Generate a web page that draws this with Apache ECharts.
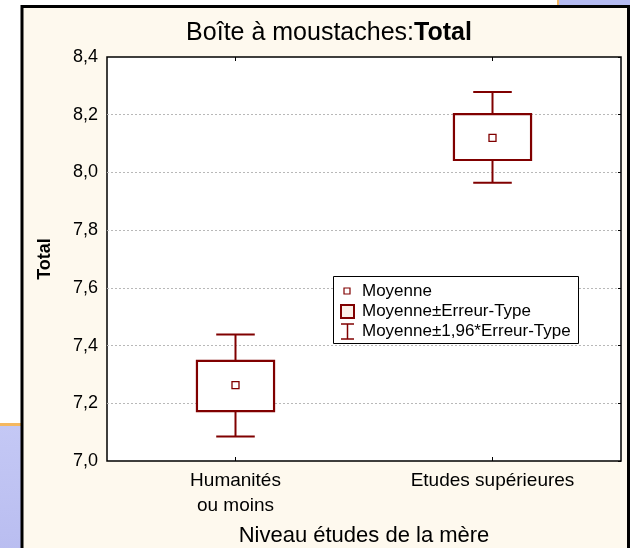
<!DOCTYPE html>
<html>
<head>
<meta charset="utf-8">
<script src="https://cdn.jsdelivr.net/npm/echarts@6/dist/echarts.min.js"></script>
<style>html,body{margin:0;padding:0;background:#fff}#c{width:630px;height:548px}</style>
</head>
<body>
<div id="c"></div>
<script>
// ---- data ----
const categories = ['Humanités\nou moins', 'Etudes supérieures'];
const means  = [7.263, 8.120];
const seLow  = [7.173, 8.043];
const seHigh = [7.347, 8.202];
const ciLow  = [7.085, 7.964];
const ciHigh = [7.438, 8.279];
const yMin = 7.0, yMax = 8.4, yStep = 0.2;
const legendNames = ['Moyenne', 'Moyenne±Erreur-Type', 'Moyenne±1,96*Erreur-Type'];

const RED = '#800000';
const FONT = 'Liberation Sans, Arial, sans-serif';

const chart = echarts.init(document.getElementById('c'), null, {renderer: 'canvas'});

const whiskerData = categories.map((c, i) => [i, ciLow[i], ciHigh[i]]);
const boxData = categories.map((c, i) => [i, seLow[i], seHigh[i]]);
const meanData = categories.map((c, i) => [i, means[i]]);

const option = {
  backgroundColor: '#ffffff',
  animation: false,
  title: {
    text: '{n|Boîte à moustaches:}{b|Total}',
    left: 329, top: 21, textAlign: 'center', padding: 0,
    textStyle: {
      fontWeight: 'normal', fontFamily: FONT, fontSize: 25, color: '#000',
      rich: {
        n: {fontFamily: FONT, fontSize: 25, fontWeight: 'normal', color: '#000'},
        b: {fontFamily: FONT, fontSize: 25, fontWeight: 'bold', color: '#000'}
      }
    }
  },
  grid: {
    left: 107, top: 57, width: 514, height: 404,
    outerBoundsMode: 'none', containLabel: false,
    show: true, backgroundColor: '#ffffff', borderColor: '#000', borderWidth: 1.5
  },
  xAxis: [{
    type: 'category', data: categories, position: 'bottom',
    axisLine: {show: false},
    axisTick: {show: true, inside: true, length: 4, alignWithLabel: true, lineStyle: {color: '#000'}},
    axisLabel: {fontFamily: FONT, fontSize: 19, color: '#000', margin: 7, lineHeight: 25},
    splitLine: {show: false},
    name: 'Niveau études de la mère', nameLocation: 'middle', nameGap: 64,
    nameTextStyle: {fontFamily: FONT, fontSize: 22, color: '#000'}
  }, {
    type: 'category', data: categories, position: 'top',
    axisLine: {show: false},
    axisTick: {show: true, inside: true, length: 4, alignWithLabel: true, lineStyle: {color: '#000'}},
    axisLabel: {show: false}, splitLine: {show: false}
  }],
  yAxis: [{
    type: 'value', min: yMin, max: yMax, interval: yStep, position: 'left',
    axisLine: {show: false},
    axisTick: {show: false},
    axisLabel: {fontFamily: FONT, fontSize: 18, color: '#000', margin: 9,
      formatter: v => v.toFixed(1).replace('.', ',')},
    splitLine: {show: true, showMinLine: false, showMaxLine: false,
      lineStyle: {color: '#b8b8b8', type: [2, 2], width: 1}},
    name: 'Total', nameLocation: 'middle', nameGap: 53, nameRotate: 90,
    nameTextStyle: {fontFamily: FONT, fontSize: 18, fontWeight: 'bold', color: '#000'}
  }, {
    type: 'value', min: yMin, max: yMax, interval: yStep, position: 'right',
    axisLine: {show: false},
    axisTick: {show: true, inside: true, length: 3, lineStyle: {color: '#000'}},
    axisLabel: {show: false}, splitLine: {show: false}
  }],
  series: [{
    name: legendNames[2], type: 'custom', z: 3,
    data: whiskerData, encode: {x: 0, y: [1, 2]},
    renderItem: function (params, api) {
      const i = api.value(0);
      const lo = api.coord([i, api.value(1)]);
      const hi = api.coord([i, api.value(2)]);
      const band = api.size([1, 0])[0];
      const cw = band * 0.15;
      const st = {stroke: RED, lineWidth: 2};
      return {type: 'group', children: [
        {type: 'line', shape: {x1: lo[0], y1: lo[1], x2: hi[0], y2: hi[1]}, style: st},
        {type: 'line', shape: {x1: lo[0] - cw / 2, y1: lo[1], x2: lo[0] + cw / 2, y2: lo[1]}, style: st},
        {type: 'line', shape: {x1: hi[0] - cw / 2, y1: hi[1], x2: hi[0] + cw / 2, y2: hi[1]}, style: st}
      ]};
    }
  }, {
    name: legendNames[1], type: 'custom', z: 4,
    data: boxData, encode: {x: 0, y: [1, 2]},
    renderItem: function (params, api) {
      const i = api.value(0);
      const lo = api.coord([i, api.value(1)]);
      const hi = api.coord([i, api.value(2)]);
      const band = api.size([1, 0])[0];
      const w = band * 0.30;
      return {type: 'rect',
        shape: {x: lo[0] - w / 2, y: hi[1], width: w, height: lo[1] - hi[1]},
        style: {fill: '#ffffff', stroke: RED, lineWidth: 2.2}};
    }
  }, {
    name: legendNames[0], type: 'custom', z: 5,
    data: meanData, encode: {x: 0, y: 1},
    renderItem: function (params, api) {
      const p = api.coord([api.value(0), api.value(1)]);
      const s = 7;
      return {type: 'rect',
        shape: {x: p[0] - s / 2, y: p[1] - s / 2, width: s, height: s},
        style: {fill: '#ffffff', stroke: RED, lineWidth: 1.3}};
    }
  }],
  graphic: [
    // page decorations around the panel
    {type: 'rect', z: -10, silent: true, shape: {x: 0, y: 425, width: 22, height: 130},
      style: {fill: new echarts.graphic.LinearGradient(0, 0, 0, 1, [{offset: 0, color: '#c4c8f5'}, {offset: 1, color: '#b9bdf0'}])}},
    {type: 'rect', z: -9, silent: true, shape: {x: 0, y: 423, width: 22, height: 3}, style: {fill: '#f5b860'}},
    {type: 'rect', z: -10, silent: true, shape: {x: 559, y: 0, width: 80, height: 6}, style: {fill: '#b4baf0'}},
    {type: 'rect', z: -9, silent: true, shape: {x: 557, y: 0, width: 2, height: 6}, style: {fill: '#f5b860'}},
    // panel
    {type: 'rect', z: -8, silent: true, shape: {x: 22, y: 6.5, width: 606.5, height: 600},
      style: {fill: '#fef9ee', stroke: '#000', lineWidth: 3}},
    // legend
    {type: 'group', z: 100, children: [
      {type: 'rect', z: 100, shape: {x: 333.5, y: 276.5, width: 245, height: 67},
        style: {fill: '#ffffff', stroke: '#000', lineWidth: 1}},
      {type: 'rect', z: 101, shape: {x: 344, y: 288, width: 6, height: 6},
        style: {fill: '#fff', stroke: RED, lineWidth: 1.2}},
      {type: 'text', z: 101, style: {x: 362, y: 291, text: legendNames[0], fill: '#000',
        font: '17px ' + FONT, verticalAlign: 'middle', align: 'left'}},
      {type: 'rect', z: 101, shape: {x: 341, y: 305, width: 13, height: 13},
        style: {fill: '#fbf0e8', stroke: RED, lineWidth: 2}},
      {type: 'text', z: 101, style: {x: 362, y: 311, text: legendNames[1], fill: '#000',
        font: '17px ' + FONT, verticalAlign: 'middle', align: 'left'}},
      {type: 'line', z: 101, shape: {x1: 347.5, y1: 324, x2: 347.5, y2: 339}, style: {stroke: RED, lineWidth: 1.5}},
      {type: 'line', z: 101, shape: {x1: 341, y1: 324, x2: 354, y2: 324}, style: {stroke: RED, lineWidth: 1.5}},
      {type: 'line', z: 101, shape: {x1: 341, y1: 339, x2: 354, y2: 339}, style: {stroke: RED, lineWidth: 1.5}},
      {type: 'text', z: 101, style: {x: 362, y: 331, text: legendNames[2], fill: '#000',
        font: '17px ' + FONT, verticalAlign: 'middle', align: 'left'}}
    ]}
  ]
};
chart.setOption(option);
</script>
</body>
</html>
